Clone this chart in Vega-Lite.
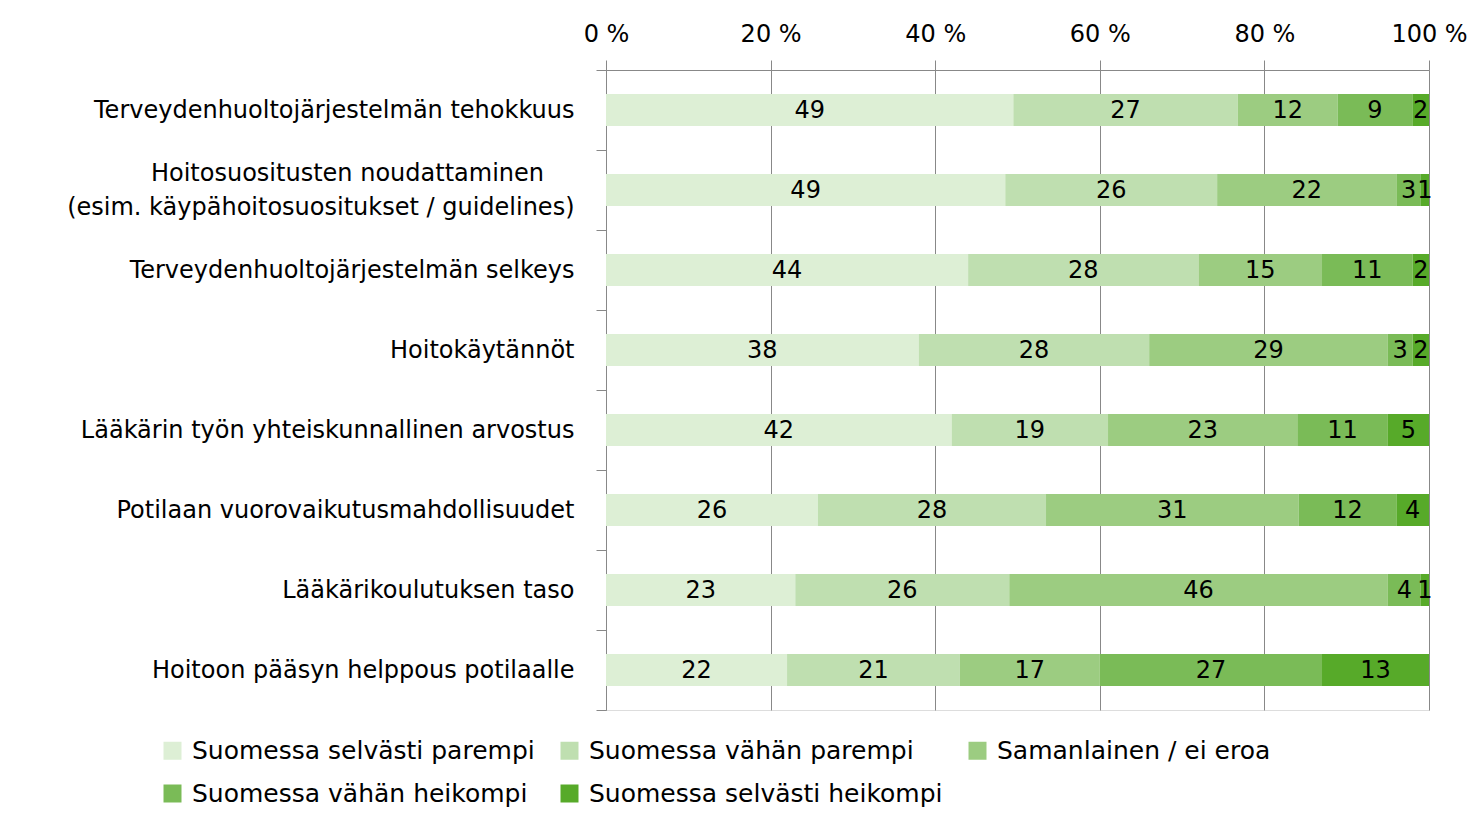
{
  "$schema": "https://vega.github.io/schema/vega-lite/v6.json",
  "width": 823,
  "height": 640,
  "autosize": "none",
  "padding": {"left": 606, "top": 70, "right": 52, "bottom": 106},
  "background": "white",
  "data": {
    "values": [
      {"item": "Terveydenhuoltojärjestelmän tehokkuus", "cat": "Suomessa selvästi parempi", "k": 1, "v": 49},
      {"item": "Terveydenhuoltojärjestelmän tehokkuus", "cat": "Suomessa vähän parempi", "k": 2, "v": 27},
      {"item": "Terveydenhuoltojärjestelmän tehokkuus", "cat": "Samanlainen / ei eroa", "k": 3, "v": 12},
      {"item": "Terveydenhuoltojärjestelmän tehokkuus", "cat": "Suomessa vähän heikompi", "k": 4, "v": 9},
      {"item": "Terveydenhuoltojärjestelmän tehokkuus", "cat": "Suomessa selvästi heikompi", "k": 5, "v": 2},
      {"item": "Hoitosuositusten", "cat": "Suomessa selvästi parempi", "k": 1, "v": 49},
      {"item": "Hoitosuositusten", "cat": "Suomessa vähän parempi", "k": 2, "v": 26},
      {"item": "Hoitosuositusten", "cat": "Samanlainen / ei eroa", "k": 3, "v": 22},
      {"item": "Hoitosuositusten", "cat": "Suomessa vähän heikompi", "k": 4, "v": 3},
      {"item": "Hoitosuositusten", "cat": "Suomessa selvästi heikompi", "k": 5, "v": 1},
      {"item": "Terveydenhuoltojärjestelmän selkeys", "cat": "Suomessa selvästi parempi", "k": 1, "v": 44},
      {"item": "Terveydenhuoltojärjestelmän selkeys", "cat": "Suomessa vähän parempi", "k": 2, "v": 28},
      {"item": "Terveydenhuoltojärjestelmän selkeys", "cat": "Samanlainen / ei eroa", "k": 3, "v": 15},
      {"item": "Terveydenhuoltojärjestelmän selkeys", "cat": "Suomessa vähän heikompi", "k": 4, "v": 11},
      {"item": "Terveydenhuoltojärjestelmän selkeys", "cat": "Suomessa selvästi heikompi", "k": 5, "v": 2},
      {"item": "Hoitokäytännöt", "cat": "Suomessa selvästi parempi", "k": 1, "v": 38},
      {"item": "Hoitokäytännöt", "cat": "Suomessa vähän parempi", "k": 2, "v": 28},
      {"item": "Hoitokäytännöt", "cat": "Samanlainen / ei eroa", "k": 3, "v": 29},
      {"item": "Hoitokäytännöt", "cat": "Suomessa vähän heikompi", "k": 4, "v": 3},
      {"item": "Hoitokäytännöt", "cat": "Suomessa selvästi heikompi", "k": 5, "v": 2},
      {"item": "Lääkärin työn yhteiskunnallinen arvostus", "cat": "Suomessa selvästi parempi", "k": 1, "v": 42},
      {"item": "Lääkärin työn yhteiskunnallinen arvostus", "cat": "Suomessa vähän parempi", "k": 2, "v": 19},
      {"item": "Lääkärin työn yhteiskunnallinen arvostus", "cat": "Samanlainen / ei eroa", "k": 3, "v": 23},
      {"item": "Lääkärin työn yhteiskunnallinen arvostus", "cat": "Suomessa vähän heikompi", "k": 4, "v": 11},
      {"item": "Lääkärin työn yhteiskunnallinen arvostus", "cat": "Suomessa selvästi heikompi", "k": 5, "v": 5},
      {"item": "Potilaan vuorovaikutusmahdollisuudet", "cat": "Suomessa selvästi parempi", "k": 1, "v": 26},
      {"item": "Potilaan vuorovaikutusmahdollisuudet", "cat": "Suomessa vähän parempi", "k": 2, "v": 28},
      {"item": "Potilaan vuorovaikutusmahdollisuudet", "cat": "Samanlainen / ei eroa", "k": 3, "v": 31},
      {"item": "Potilaan vuorovaikutusmahdollisuudet", "cat": "Suomessa vähän heikompi", "k": 4, "v": 12},
      {"item": "Potilaan vuorovaikutusmahdollisuudet", "cat": "Suomessa selvästi heikompi", "k": 5, "v": 4},
      {"item": "Lääkärikoulutuksen taso", "cat": "Suomessa selvästi parempi", "k": 1, "v": 23},
      {"item": "Lääkärikoulutuksen taso", "cat": "Suomessa vähän parempi", "k": 2, "v": 26},
      {"item": "Lääkärikoulutuksen taso", "cat": "Samanlainen / ei eroa", "k": 3, "v": 46},
      {"item": "Lääkärikoulutuksen taso", "cat": "Suomessa vähän heikompi", "k": 4, "v": 4},
      {"item": "Lääkärikoulutuksen taso", "cat": "Suomessa selvästi heikompi", "k": 5, "v": 1},
      {"item": "Hoitoon pääsyn helppous potilaalle", "cat": "Suomessa selvästi parempi", "k": 1, "v": 22},
      {"item": "Hoitoon pääsyn helppous potilaalle", "cat": "Suomessa vähän parempi", "k": 2, "v": 21},
      {"item": "Hoitoon pääsyn helppous potilaalle", "cat": "Samanlainen / ei eroa", "k": 3, "v": 17},
      {"item": "Hoitoon pääsyn helppous potilaalle", "cat": "Suomessa vähän heikompi", "k": 4, "v": 27},
      {"item": "Hoitoon pääsyn helppous potilaalle", "cat": "Suomessa selvästi heikompi", "k": 5, "v": 13}
    ]
  },
  "transform": [
    {"stack": "v", "groupby": ["item"], "sort": [{"field": "k", "order": "ascending"}], "as": ["x0", "x1"], "offset": "normalize"}
  ],
  "encoding": {
    "y": {
      "field": "item",
      "type": "nominal",
      "sort": ["Terveydenhuoltojärjestelmän tehokkuus", "Hoitosuositusten", "Terveydenhuoltojärjestelmän selkeys", "Hoitokäytännöt", "Lääkärin työn yhteiskunnallinen arvostus", "Potilaan vuorovaikutusmahdollisuudet", "Lääkärikoulutuksen taso", "Hoitoon pääsyn helppous potilaalle"],
      "title": null,
      "scale": {"paddingInner": 0, "paddingOuter": 0},
      "axis": {
        "tickBand": "extent",
        "domainColor": "#888888",
        "tickColor": "#888888",
        "tickSize": 10,
        "labelPadding": 22,
        "labelFont": "DejaVu Sans",
        "labelFontSize": 24,
        "labelColor": "#000000",
        "labelLimit": 700,
        "labelLineHeight": 34,
        "labelOffset": {"condition": {"test": "datum.value == 'Hoitosuositusten'", "value": -17}, "value": 0},
        "labelExpr": "datum.value == 'Hoitosuositusten' ? ['Hoitosuositusten noudattaminen\u00a0\u00a0\u00a0\u00a0\u200b', '(esim. käypähoitosuositukset / guidelines)'] : datum.value"
      }
    }
  },
  "layer": [
    {
      "mark": {"type": "bar", "height": {"band": 0.4}},
      "encoding": {
        "x": {
          "field": "x0",
          "type": "quantitative",
          "scale": {"domain": [0, 1]},
          "title": null,
          "axis": {
            "orient": "top",
            "values": [0, 0.2, 0.4, 0.6, 0.8, 1],
            "labelExpr": "format(datum.value * 100, 'd') + ' %'",
            "labelFlush": false,
            "grid": true,
            "gridColor": "#888888",
            "domainColor": "#888888",
            "tickColor": "#888888",
            "tickSize": 10,
            "labelPadding": 14,
            "labelFont": "DejaVu Sans",
            "labelFontSize": 24,
            "labelColor": "#000000"
          }
        },
        "x2": {"field": "x1"},
        "color": {
          "field": "cat",
          "type": "nominal",
          "sort": ["Suomessa selvästi parempi", "Suomessa vähän parempi", "Samanlainen / ei eroa", "Suomessa vähän heikompi", "Suomessa selvästi heikompi"],
          "scale": {
            "domain": ["Suomessa selvästi parempi", "Suomessa vähän parempi", "Samanlainen / ei eroa", "Suomessa vähän heikompi", "Suomessa selvästi heikompi"],
            "range": ["#DDEFD5", "#BFDFB0", "#9CCC81", "#7ABB57", "#57AA29"]
          },
          "legend": {
            "title": null,
            "orient": "none",
            "legendX": -446,
            "legendY": 668,
            "direction": "horizontal",
            "columns": 3,
            "symbolType": "square",
            "symbolSize": 324,
            "symbolStrokeWidth": 0,
            "labelFont": "DejaVu Sans",
            "labelFontSize": 25,
            "labelColor": "#000000",
            "labelLimit": 600,
            "columnPadding": 22,
            "rowPadding": 17,
            "labelOffset": 7
          }
        }
      }
    },
    {
      "transform": [
        {"fold": ["x0", "x1"], "as": ["edge", "pos"]},
        {"aggregate": [{"op": "mean", "field": "pos", "as": "mid"}], "groupby": ["item", "cat", "v"]}
      ],
      "mark": {"type": "text", "font": "DejaVu Sans", "fontSize": 24, "color": "#000000", "baseline": "middle", "align": "center", "dy": 1},
      "encoding": {
        "x": {"field": "mid", "type": "quantitative"},
        "text": {"field": "v", "type": "quantitative"}
      }
    }
  ]
}
